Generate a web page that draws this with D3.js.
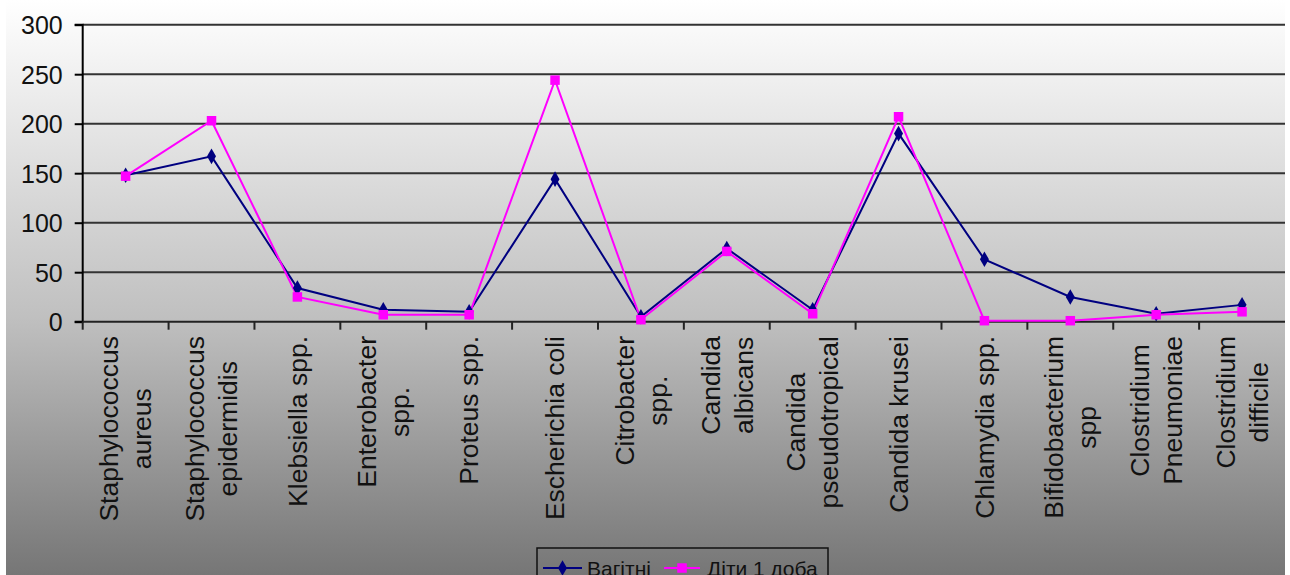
<!DOCTYPE html>
<html>
<head>
<meta charset="utf-8">
<script src="https://cdn.jsdelivr.net/npm/d3@7"></script>
<style>
html,body{margin:0;padding:0;background:#fff;}
svg{display:block;}
text{font-family:"Liberation Sans",Arial,sans-serif;}
</style>
</head>
<body>
<script>
const categories = [
  ["Staphylococcus","aureus"],
  ["Staphylococcus","epidermidis"],
  ["Klebsiella spp."],
  ["Enterobacter","spp."],
  ["Proteus spp."],
  ["Escherichia coli"],
  ["Citrobacter","spp."],
  ["Candida","albicans"],
  ["Candida","pseudotropical"],
  ["Candida krusei"],
  ["Chlamydia spp."],
  ["Bifidobacterium","spp"],
  ["Clostridium","Pneumoniae"],
  ["Clostridium","difficile"]
];
const seriesNames = ["Вагітні","Діти 1 доба"];
const pregnant = [148,167,34,12,10,144,5,74,12,190,63,25,8,17];
const newborns = [147,203,25,7,7,244,2,71,8,207,1,1,7,10];
const yTicks = [0,50,100,150,200,250,300];

const W = 1290, H = 575;
const plot = {left:82.7, right:1285, top:24.7, bottom:321.7};
const navy = "#000080", magenta = "#ff00ff";

const svg = d3.select("body").append("svg").attr("width",W).attr("height",H);
const defs = svg.append("defs");
const grad = defs.append("linearGradient").attr("id","bg").attr("x1",0).attr("y1",0).attr("x2",0).attr("y2",1);
grad.append("stop").attr("offset","0").attr("stop-color","#ffffff");
grad.append("stop").attr("offset","0.55").attr("stop-color","#c0c0c0");
grad.append("stop").attr("offset","1").attr("stop-color","#767676");

svg.append("rect").attr("x",6).attr("y",0).attr("width",plot.right-6).attr("height",H).attr("fill","url(#bg)");

const x = d3.scaleBand().domain(d3.range(categories.length)).range([plot.left, plot.right]);
const y = d3.scaleLinear().domain([0,300]).range([plot.bottom, plot.top]);
const cx = i => x(i) + x.bandwidth()/2;

// gridlines
svg.append("g").selectAll("line").data(yTicks.filter(t=>t>0)).join("line")
  .attr("x1",plot.left).attr("x2",plot.right)
  .attr("y1",d=>y(d)).attr("y2",d=>y(d))
  .attr("stroke","#333").attr("stroke-width",2);

// y axis
const yAxis = d3.axisLeft(y).tickValues(yTicks).tickSize(8).tickPadding(12);
const gy = svg.append("g").attr("transform",`translate(${plot.left},0)`).call(yAxis);
gy.select(".domain").attr("stroke","#000").attr("stroke-width",2).attr("d",`M-8,${plot.top}H0V${plot.bottom}H-8`);
gy.selectAll(".tick line").attr("stroke","#000").attr("stroke-width",2);
gy.selectAll(".tick text").attr("font-size","25px").attr("fill","#111").attr("font-family","Liberation Sans, Arial, sans-serif").attr("dy","0.36em");

// x axis line and ticks at boundaries
svg.append("line").attr("x1",plot.left).attr("x2",plot.right).attr("y1",plot.bottom).attr("y2",plot.bottom).attr("stroke","#222").attr("stroke-width",2);
svg.append("g").selectAll("line").data(d3.range(categories.length)).join("line")
  .attr("x1",d=>x(d)).attr("x2",d=>x(d)).attr("y1",plot.bottom).attr("y2",plot.bottom+8)
  .attr("stroke","#222").attr("stroke-width",2);

// category labels
const fs = 26.5, lh = 33, labelTop = 336;
categories.forEach((lines,i)=>{
  const g = svg.append("g").attr("transform",`translate(${cx(i)},${labelTop}) rotate(-90)`);
  const texts = lines.map((ln,j)=>g.append("text").text(ln).attr("font-size",fs+"px").attr("fill","#111")
     .attr("text-anchor","middle")
     .attr("y", (j-(lines.length-1)/2)*lh + 0.35*fs));
  const maxW = d3.max(texts, t=>t.node().getComputedTextLength());
  texts.forEach(t=>t.attr("x",-maxW/2));
});

// lines
const line = d3.line().x((d,i)=>cx(i)).y(d=>y(d));
svg.append("path").datum(pregnant).attr("d",line).attr("fill","none").attr("stroke",navy).attr("stroke-width",2);
svg.append("path").datum(newborns).attr("d",line).attr("fill","none").attr("stroke",magenta).attr("stroke-width",2);

const diamond = d3.symbol().type(d3.symbolDiamond).size(70);
const square = d3.symbol().type(d3.symbolSquare).size(90);
svg.append("g").selectAll("path").data(pregnant).join("path")
  .attr("d",diamond).attr("transform",(d,i)=>`translate(${cx(i)},${y(d)})`).attr("fill",navy);
svg.append("g").selectAll("path").data(newborns).join("path")
  .attr("d",square).attr("transform",(d,i)=>`translate(${cx(i)},${y(d)})`).attr("fill",magenta);

// legend
const lg = svg.append("g");
lg.append("rect").attr("x",537).attr("y",548).attr("width",291).attr("height",40).attr("fill","none").attr("stroke","#111").attr("stroke-width",1.5);
const legendItems = [
  {name:seriesNames[0], color:navy, sym:diamond, x0:543, x1:582, tx:587},
  {name:seriesNames[1], color:magenta, sym:square, x0:664, x1:700, tx:707}
];
legendItems.forEach(it=>{
  const ly = 568;
  lg.append("line").attr("x1",it.x0).attr("x2",it.x1).attr("y1",ly).attr("y2",ly).attr("stroke",it.color).attr("stroke-width",2);
  lg.append("path").attr("d",it.sym).attr("transform",`translate(${(it.x0+it.x1)/2},${ly})`).attr("fill",it.color);
  lg.append("text").text(it.name).attr("x",it.tx).attr("y",ly+8).attr("font-size","21px").attr("fill","#111");
});
</script>
</body>
</html>
